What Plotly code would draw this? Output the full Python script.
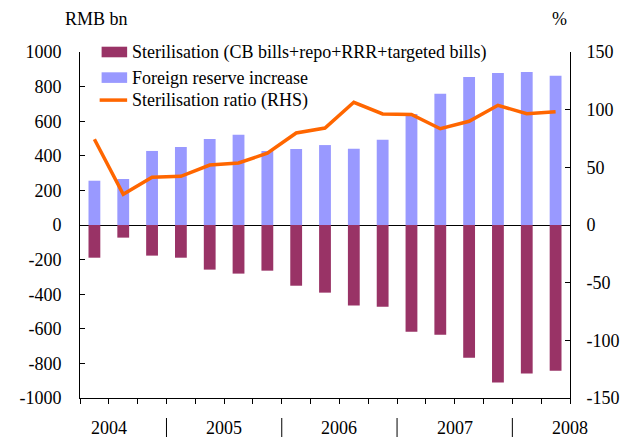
import plotly.graph_objects as go

# quarterly data, 2004Q2 - 2008Q2
quarters = ["2004Q2", "2004Q3", "2004Q4",
            "2005Q1", "2005Q2", "2005Q3", "2005Q4",
            "2006Q1", "2006Q2", "2006Q3", "2006Q4",
            "2007Q1", "2007Q2", "2007Q3", "2007Q4",
            "2008Q1", "2008Q2"]
sterilisation = [-189, -73, -177, -189, -258, -281, -264, -351, -391,
                 -466, -472, -617, -634, -767, -911, -859, -842]
reserve_increase = [256, 266, 428, 451, 497, 522, 428, 439, 462,
                    441, 493, 641, 759, 855, 878, 884, 863]
ster_ratio = [74.3, 26.6, 41.4, 42.2, 52.0, 53.8, 62.2, 79.8, 84.1,
              106.4, 96.3, 95.8, 83.5, 89.9, 103.8, 96.5, 98.3]

years = ["2004", "2005", "2006", "2007", "2008"]
year_pos = [0.5, 4.5, 8.5, 12.5, 16.5]
sep_pos = [2.5, 6.5, 10.5, 14.5]

left_ticks = [-1000, -800, -600, -400, -200, 0, 200, 400, 600, 800, 1000]
right_ticks = [-150, -100, -50, 0, 50, 100, 150]

names = ["Sterilisation (CB bills+repo+RRR+targeted bills)",
         "Foreign reserve increase",
         "Sterilisation ratio (RHS)"]
maroon = "#993366"
blue = "#9999FF"
orange = "#FF6600"
font = "Liberation Serif"

fig = go.Figure()
fig.add_trace(go.Bar(x=quarters, y=sterilisation, name=names[0],
                     marker=dict(color=maroon, line=dict(width=0)), width=0.41))
fig.add_trace(go.Bar(x=quarters, y=reserve_increase, name=names[1],
                     marker=dict(color=blue, line=dict(width=0)), width=0.41))
fig.add_trace(go.Scatter(x=quarters, y=ster_ratio, name=names[2], yaxis="y2",
                         mode="lines", line=dict(color=orange, width=3.5)))

fig.update_layout(
    width=632, height=439,
    margin=dict(l=80, r=53, t=52, b=41),
    paper_bgcolor="white", plot_bgcolor="white",
    barmode="overlay", showlegend=False,
    font=dict(family=font, size=18, color="black"),
    xaxis=dict(type="category", range=[-0.5, 16.5], showticklabels=False,
               tickson="boundaries", ticks="outside", ticklen=5, tickcolor="black",
               showline=True, linecolor="black", linewidth=1, showgrid=False),
    yaxis=dict(range=[-1000, 1000], tickvals=left_ticks,
               ticktext=[str(v) for v in left_ticks], ticks="inside", ticklen=5,
               tickcolor="black", showline=True, linecolor="black", linewidth=1,
               showgrid=False, zeroline=True, zerolinecolor="black", zerolinewidth=1,
               ticklabelstandoff=14),
    yaxis2=dict(range=[-150, 150], tickvals=right_ticks,
                ticktext=[str(v) for v in right_ticks], overlaying="y", side="right",
                ticks="inside", ticklen=5, tickcolor="black", showline=True,
                linecolor="black", linewidth=1, showgrid=False, zeroline=False,
                ticklabelstandoff=12),
)

ann = [
    dict(text="RMB bn", x=0, xref="paper", xshift=16, xanchor="center",
         y=1, yref="paper", yshift=33, yanchor="middle", showarrow=False),
    dict(text="%", x=1, xref="paper", xshift=-11, xanchor="center",
         y=1, yref="paper", yshift=33, yanchor="middle", showarrow=False),
]
for yr, p in zip(years, year_pos):
    ann.append(dict(text=yr, x=p, xref="x", y=0, yref="paper", yshift=-30,
                    yanchor="middle", xanchor="center", showarrow=False))

# legend drawn by hand to get the wide swatches
leg_y = [1.0, 0.926, 0.861]
x0, x1 = 22 / 499, 48 / 499
shapes = [
    dict(type="rect", xref="paper", yref="paper", x0=x0, x1=x1,
         y0=leg_y[0] - 5.3 / 346, y1=leg_y[0] + 5.3 / 346,
         fillcolor=maroon, line=dict(width=0)),
    dict(type="rect", xref="paper", yref="paper", x0=x0, x1=x1,
         y0=leg_y[1] - 5.3 / 346, y1=leg_y[1] + 5.3 / 346,
         fillcolor=blue, line=dict(width=0)),
    dict(type="line", xref="paper", yref="paper", x0=20 / 499, x1=x1,
         y0=leg_y[2], y1=leg_y[2], line=dict(color=orange, width=3.5)),
]
# year separators below the axis
for p in sep_pos:
    shapes.append(dict(type="line", xref="x", yref="paper", x0=p, x1=p,
                       y0=-20 / 346, y1=-39 / 346,
                       line=dict(color="black", width=1)))
for n, yy in zip(names, leg_y):
    ann.append(dict(text=n, x=51 / 499, xref="paper", xanchor="left",
                    y=yy, yref="paper", yanchor="middle", showarrow=False))

fig.update_layout(annotations=ann, shapes=shapes)
fig.write_html("out.html", config={"displayModeBar": False},
               post_script="document.body.style.margin='0';")
